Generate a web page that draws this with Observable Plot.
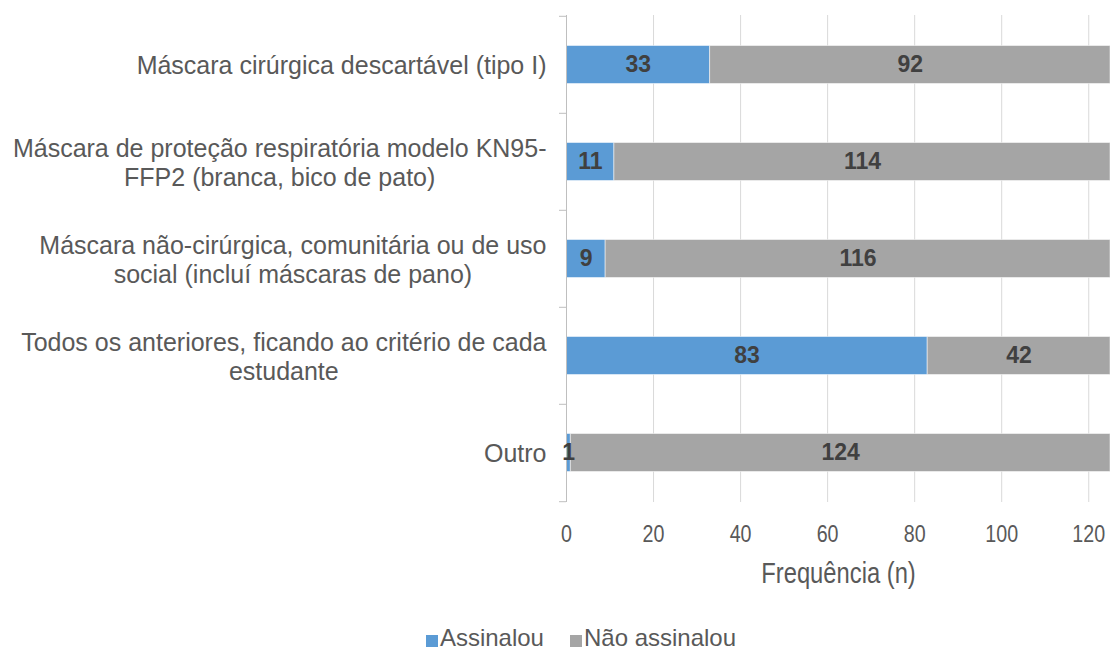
<!DOCTYPE html>
<html><head><meta charset="utf-8">
<script src="https://cdn.jsdelivr.net/npm/d3@7"></script>
<script src="https://cdn.jsdelivr.net/npm/@observablehq/plot@0.6"></script>
<style>
body{margin:0;background:#fff;overflow:hidden;}
#legend{display:flex;justify-content:center;align-items:center;font-family:"Liberation Sans",Arial,sans-serif;font-size:24px;line-height:24px;color:#595959;height:26px;margin-top:5px;padding-left:52px;}
.sw{display:inline-block;width:12px;height:12px;margin-right:2px;position:relative;top:3px;}
.item{display:flex;align-items:center;margin:0 13px;}
</style></head><body><div id="chart"></div><div id="legend"></div>
<script>
const categories = [
  "Máscara cirúrgica descartável (tipo I)",
  "Máscara de proteção respiratória modelo KN95-\nFFP2 (branca, bico de pato)",
  "Máscara não-cirúrgica, comunitária ou de uso\nsocial (incluí máscaras de pano)",
  "Todos os anteriores, ficando ao critério de cada\nestudante",
  "Outro"
];
const series = ["Assinalou", "Não assinalou"];
const assinalou = [33, 11, 9, 83, 1];
const naoAssinalou = [92, 114, 116, 42, 124];
const xTicks = [0, 20, 40, 60, 80, 100, 120];
const colors = ["#5B9BD5", "#A5A5A5"];

const data = categories.flatMap((c, i) => [
  {cat: c, series: series[0], value: assinalou[i]},
  {cat: c, series: series[1], value: naoAssinalou[i]}
]);

const H = 620, mT = 15, mB = 118;
const bw = (H - mT - mB) / categories.length;

const chart = Plot.plot({
  width: 1110,
  height: H,
  marginLeft: 566,
  marginRight: 0,
  marginTop: mT,
  marginBottom: mB,
  style: {fontFamily: "'Liberation Sans',Arial,sans-serif", fontSize: "20px", color: "#595959", background: "#fff"},
  x: {domain: [0, 125]},
  y: {domain: categories, padding: 0},
  color: {domain: series, range: colors},
  marks: [
    Plot.gridX(xTicks, {stroke: "#D9D9D9", strokeOpacity: 1}),
    Plot.barX(data, Plot.stackX({x: "value", y: "cat", fill: "series", order: series, insetTop: 29.5, insetBottom: 29.5, stroke: "white", strokeOpacity: 0.5, strokeWidth: 1})),
    Plot.ruleX([0], {stroke: "#BFBFBF"}),
    Plot.axisY({tickSize: 7, text: null, label: null, stroke: "#BFBFBF", dy: -bw / 2}),
    Plot.axisY({ticks: [categories[categories.length - 1]], tickSize: 7, text: null, label: null, stroke: "#BFBFBF", dy: bw / 2}),
    Plot.axisY({tickSize: 0, tickPadding: 20, fontSize: 25, lineHeight: 1.18, label: null}),
    Plot.axisX({ticks: xTicks, tickSize: 0, tickPadding: 22, fontSize: 24, label: "Frequência (n)", labelAnchor: "center", labelArrow: false, labelOffset: 80}),
    Plot.text(data, Plot.stackX({x: "value", y: "cat", z: "series", order: series, text: d => String(d.value), fontWeight: "bold", fontSize: 23, fill: "#404040"}))
  ]
});
document.getElementById("chart").appendChild(chart);

// center multi-line category labels (Excel style)
chart.querySelectorAll('g[aria-label="y-axis tick label"] text').forEach(t => {
  const b = t.getBBox();
  t.setAttribute("text-anchor", "middle");
  const tr = t.getAttribute("transform") || "";
  t.setAttribute("transform", tr + ` translate(${-b.width / 2},0)`);
});
// narrow (condensed) look for x tick labels and axis label
chart.querySelectorAll('g[aria-label="x-axis tick label"] text').forEach(t => {
  const tr = t.getAttribute("transform") || "";
  t.setAttribute("transform", tr + " scale(0.82,1)");
});
chart.querySelectorAll('g[aria-label="x-axis label"] text').forEach(t => {
  t.setAttribute("font-size", "29");
  const tr = t.getAttribute("transform") || "";
  t.setAttribute("transform", tr + " scale(0.82,1)");
});

const lg = document.getElementById("legend");
series.forEach((s, i) => {
  const it = document.createElement("span");
  it.className = "item";
  const sw = document.createElement("span");
  sw.className = "sw";
  sw.style.background = colors[i];
  it.appendChild(sw);
  it.appendChild(document.createTextNode(s));
  lg.appendChild(it);
});
</script></body></html>
